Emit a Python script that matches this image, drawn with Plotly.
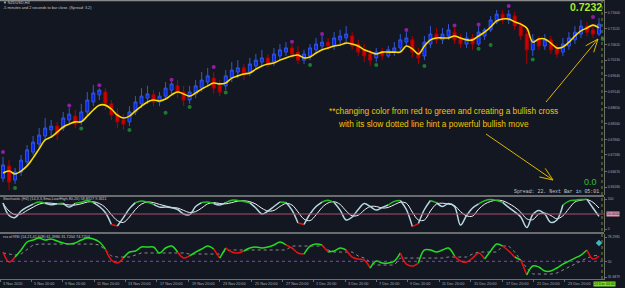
import plotly.graph_objects as go
import math

# ---------------- data ----------------
bar_idx = list(range(100))
opens = [0.6646,0.6684,0.6640,0.6665,0.6696,0.6727,0.6752,0.6777,0.6796,0.6808,
         0.6802,0.6827,0.6839,0.6821,0.6852,0.6883,0.6905,0.6914,0.6877,0.6845,
         0.6827,0.6821,0.6852,0.6877,0.6895,0.6905,0.6883,0.6901,0.6920,0.6933,
         0.6914,0.6889,0.6908,0.6926,0.6945,0.6957,0.6933,0.6933,0.6957,0.6976,
         0.6989,0.6976,0.6995,0.7007,0.7020,0.7007,0.7026,0.7038,0.7051,0.7038,
         0.7013,0.7026,0.7045,0.7057,0.7069,0.7057,0.7076,0.7082,0.7088,0.7063,
         0.7045,0.7032,0.7020,0.7038,0.7026,0.7038,0.7051,0.7069,0.7076,0.7038,
         0.7026,0.7063,0.7094,0.7076,0.7088,0.7100,0.7082,0.7063,0.7082,0.7063,
         0.7088,0.7107,0.7132,0.7156,0.7138,0.7150,0.7119,0.7094,0.7045,0.7076,
         0.7057,0.7076,0.7051,0.7038,0.7057,0.7076,0.7094,0.7119,0.7107,0.7094]
highs = [0.6712,0.6703,0.6678,0.6718,0.6749,0.6777,0.6802,0.6833,0.6827,0.6821,
         0.6852,0.6864,0.6858,0.6877,0.6914,0.6936,0.6925,0.6926,0.6889,0.6864,
         0.6845,0.6870,0.6901,0.6926,0.6933,0.6920,0.6914,0.6945,0.6945,0.6951,
         0.6933,0.6933,0.6951,0.6976,0.6989,0.6976,0.6951,0.6982,0.7007,0.7013,
         0.7001,0.7020,0.7032,0.7045,0.7032,0.7051,0.7063,0.7069,0.7063,0.7057,
         0.7045,0.7063,0.7082,0.7088,0.7082,0.7100,0.7107,0.7119,0.7100,0.7076,
         0.7063,0.7045,0.7051,0.7051,0.7057,0.7069,0.7094,0.7100,0.7088,0.7051,
         0.7088,0.7119,0.7113,0.7113,0.7125,0.7113,0.7094,0.7100,0.7094,0.7119,
         0.7113,0.7150,0.7169,0.7169,0.7169,0.7163,0.7132,0.7113,0.7094,0.7088,
         0.7094,0.7088,0.7063,0.7082,0.7100,0.7119,0.7138,0.7132,0.7125,0.7144]
lows = [0.6634,0.6609,0.6628,0.6653,0.6687,0.6718,0.6740,0.6765,0.6774,0.6765,
        0.6793,0.6814,0.6802,0.6811,0.6842,0.6870,0.6889,0.6858,0.6827,0.6802,
        0.6796,0.6808,0.6842,0.6864,0.6877,0.6870,0.6870,0.6889,0.6908,0.6895,
        0.6870,0.6877,0.6895,0.6914,0.6933,0.6908,0.6901,0.6920,0.6945,0.6957,
        0.6951,0.6964,0.6982,0.6995,0.6989,0.6995,0.7013,0.7026,0.7020,0.7001,
        0.7001,0.7013,0.7032,0.7045,0.7045,0.7045,0.7063,0.7069,0.7045,0.7026,
        0.7007,0.6995,0.7007,0.7013,0.7020,0.7026,0.7038,0.7057,0.7020,0.7001,
        0.7013,0.7051,0.7063,0.7063,0.7076,0.7063,0.7051,0.7051,0.7045,0.7057,
        0.7076,0.7100,0.7125,0.7125,0.7125,0.7107,0.7076,0.7001,0.7026,0.7045,
        0.7045,0.7032,0.7020,0.7026,0.7045,0.7063,0.7082,0.7088,0.7082,0.7088]
closes = [0.6687,0.6634,0.6665,0.6702,0.6734,0.6758,0.6780,0.6802,0.6808,0.6783,
          0.6833,0.6845,0.6814,0.6852,0.6889,0.6911,0.6920,0.6877,0.6842,0.6821,
          0.6814,0.6852,0.6883,0.6901,0.6908,0.6883,0.6901,0.6926,0.6939,0.6914,
          0.6889,0.6914,0.6933,0.6951,0.6964,0.6926,0.6914,0.6964,0.6982,0.6989,
          0.6970,0.7001,0.7013,0.7020,0.7001,0.7032,0.7045,0.7051,0.7032,0.7013,
          0.7032,0.7051,0.7063,0.7069,0.7057,0.7082,0.7088,0.7094,0.7057,0.7038,
          0.7026,0.7013,0.7038,0.7026,0.7045,0.7051,0.7076,0.7082,0.7038,0.7020,
          0.7069,0.7094,0.7076,0.7094,0.7107,0.7076,0.7063,0.7082,0.7063,0.7100,
          0.7107,0.7138,0.7156,0.7138,0.7156,0.7119,0.7088,0.7045,0.7076,0.7057,
          0.7076,0.7045,0.7032,0.7063,0.7082,0.7100,0.7119,0.7100,0.7094,0.7125]
ma_vals = [0.6662,0.6668,0.6659,0.6668,0.6684,0.6709,0.6737,0.6765,0.6774,0.6789,
           0.6805,0.6814,0.6821,0.6821,0.6839,0.6858,0.6873,0.6873,0.6861,0.6842,
           0.6833,0.6839,0.6855,0.6870,0.6883,0.6889,0.6886,0.6892,0.6905,0.6914,
           0.6908,0.6901,0.6911,0.6923,0.6933,0.6942,0.6939,0.6942,0.6957,0.6964,
           0.6970,0.6973,0.6985,0.6995,0.7001,0.7004,0.7013,0.7020,0.7026,0.7029,
           0.7020,0.7023,0.7035,0.7045,0.7051,0.7057,0.7060,0.7066,0.7063,0.7057,
           0.7045,0.7038,0.7032,0.7038,0.7038,0.7038,0.7038,0.7057,0.7048,0.7032,
           0.7057,0.7076,0.7082,0.7082,0.7082,0.7088,0.7082,0.7076,0.7076,0.7088,
           0.7100,0.7116,0.7135,0.7141,0.7141,0.7132,0.7125,0.7113,0.7069,0.7079,
           0.7079,0.7066,0.7051,0.7054,0.7069,0.7088,0.7104,0.7113,0.7122,0.7113]
up_frac_idx = [0, 11, 16, 28, 35, 48, 53, 67, 75, 79, 84, 98]
up_frac_val = [0.6727, 0.6872, 0.6935, 0.6952, 0.6992, 0.7070, 0.7094, 0.7107, 0.7121, 0.7124, 0.7181, 0.7147]
dn_frac_idx = [2, 13, 21, 27, 31, 37, 51, 62, 70, 79, 81, 88, 99.6]
dn_frac_val = [0.6615, 0.6800, 0.6796, 0.6849, 0.6867, 0.6912, 0.6998, 0.6998, 0.6995, 0.7048, 0.7060, 0.7015, 0.7079]

stoch_k = [87,45,38,60,73,83,90,86,81,84, 86,73,86,89,95,88,75,55,15,10,
           38,68,88,93,89,82,73,73,71,65, 50,48,75,88,90,85,80,88,96,95,
           92,87,70,50,60,75,90,88,63,20, 15,50,75,90,96,88,63,30,40,65,
           85,75,63,72,80,92,95,65,8,18, 65,95,88,75,85,75,13,45,70,84,
           94,98,95,89,72,57,40,5,48,62, 50,22,30,80,93,96,98,99,70,42]
stoch_d = [85,60,48,50,62,73,83,87,86,84, 83,80,80,84,90,91,85,72,48,28,
           22,40,65,83,90,88,82,77,72,70, 62,55,58,70,84,88,85,84,88,93,
           94,91,83,69,60,62,75,85,80,57, 33,28,47,72,87,91,82,60,44,46,
           63,75,75,70,72,81,89,86,56,30, 30,60,83,86,83,78,58,44,43,66,
           83,92,96,94,85,73,56,34,31,50, 53,45,34,44,68,90,96,98,89,70]
rsi_vals = [60.8,49.2,55.0,63.2,72.5,74.8,77.0,74.8,76.0,73.6,
            71.3,70.1,71.3,74.8,77.0,76.0,72.5,64.3,51.5,48.0,
            53.8,60.8,62.0,66.6,66.6,66.6,59.7,65.5,67.8,60.8,
            53.8,56.2,60.8,64.3,67.8,64.3,53.8,65.5,60.8,59.7,
            62.0,65.5,66.6,65.5,66.6,69.0,72.5,69.0,65.5,59.7,
            58.5,67.8,70.1,69.0,60.8,62.0,65.5,63.2,55.0,52.7,
            51.5,42.2,50.3,48.0,48.0,50.3,59.7,46.8,44.5,48.0,
            63.2,63.2,60.8,63.2,65.5,56.2,50.3,49.2,53.8,59.7,
            52.7,62.0,70.1,67.8,62.0,55.0,51.5,34.0,44.5,43.3,
            38.7,38.7,42.2,46.8,50.3,53.8,57.3,63.2,52.7,56.2]
rsi_sig = [59.7,58.5,57.3,58.5,64.3,69.0,70.1,70.1,70.1,70.1,
           70.1,70.1,70.1,70.1,70.1,70.1,69.0,63.2,56.2,55.0,
           55.0,55.0,57.3,59.7,59.7,59.7,59.7,59.7,59.7,59.7,
           59.7,58.5,58.5,58.5,58.5,58.5,58.5,62.0,63.2,63.2,
           63.2,63.2,63.2,63.2,63.2,63.2,63.2,63.2,67.8,67.8,
           67.8,67.8,67.8,67.8,63.2,60.8,60.8,60.8,60.8,56.2,
           53.8,49.2,45.7,45.7,45.7,45.7,53.8,53.8,53.8,53.8,
           53.8,53.8,53.8,53.8,55.0,55.0,55.0,55.0,58.5,60.8,
           60.8,60.8,60.8,67.8,67.8,60.8,51.5,42.2,35.2,35.2,
           35.2,35.2,36.3,39.9,43.3,46.8,50.3,53.8,56.2,57.3]
rsi_icon_idx = [99]
rsi_icon_val = [71.3]

price_ticks = [0.7160,0.7112,0.7062,0.7013,0.6964,0.6914,0.6865,0.6816,0.6766,0.6718,0.6667,0.6618]
price_tick_text = ["0.71600","0.71120","0.70620","0.70130","0.69640","0.69140","0.68650",
                   "0.68160","0.67660","0.67180","0.66670","0.66180"]
xtick_idx = [-0.5,4.67,9.83,15.17,20.33,25.5,30.83,36.0,41.33,46.5,51.5,56.83,62.0,67.17,72.5,77.67,83.0,88.17,93.33]
xtick_text = ["3 Nov 2020","5 Nov 20:00","9 Nov 20:00","11 Nov 20:00","13 Nov 20:00","17 Nov 20:00",
              "19 Nov 20:00","23 Nov 20:00","25 Nov 20:00","27 Nov 20:00","1 Dec 20:00","3 Dec 20:00",
              "7 Dec 20:00","9 Dec 20:00","11 Dec 20:00","15 Dec 20:00","17 Dec 20:00","21 Dec 20:00",
              "23 Dec 20:00"]

# ---------------- layout helpers ----------------
BG = "#131722"
PW, PH = 604, 279           # plot area in px (right margin 21, bottom margin 9)
def px(x): return x / PW
def py(y): return (PH - y) / PH

fig = go.Figure()

fig.add_trace(go.Candlestick(
    x=bar_idx, open=opens, high=highs, low=lows, close=closes,
    increasing=dict(line=dict(color="#3358d0", width=1), fillcolor="#0a22ff"),
    decreasing=dict(line=dict(color="#b00000", width=1), fillcolor="#d40000"),
    whiskerwidth=0, xaxis="x", yaxis="y", hoverinfo="skip"))
fig.add_trace(go.Scatter(x=bar_idx, y=ma_vals, mode="lines", line=dict(color="#FFDC00", width=1.6, shape="spline"),
                         xaxis="x", yaxis="y", hoverinfo="skip"))
fig.add_trace(go.Scatter(x=up_frac_idx, y=up_frac_val, mode="markers",
                         marker=dict(symbol="circle", size=4, color="#8e1f9f"), xaxis="x", yaxis="y"))
fig.add_trace(go.Scatter(x=dn_frac_idx, y=dn_frac_val, mode="markers",
                         marker=dict(symbol="circle", size=4, color="#1b7a30"), xaxis="x", yaxis="y"))

def add_runs(xs, ys, seg_colors, yaxis, width):
    start = 0
    n = len(seg_colors)
    for i in range(1, n + 1):
        if i == n or seg_colors[i] != seg_colors[start]:
            fig.add_trace(go.Scatter(x=xs[start:i + 1], y=ys[start:i + 1], mode="lines",
                                     line=dict(color=seg_colors[start], width=width, shape="spline"),
                                     xaxis="x", yaxis=yaxis, hoverinfo="skip"))
            start = i

# stochastic
fig.add_trace(go.Scatter(x=bar_idx, y=stoch_d, mode="lines", line=dict(color="#f2f2f2", width=1, shape="spline"),
                         xaxis="x", yaxis="y2", hoverinfo="skip"))
k_cols = []
for i in range(len(stoch_k) - 1):
    a = (stoch_k[i] + stoch_k[i + 1]) / 2
    k_cols.append("#22c322" if a >= 85 else ("#e81010" if a <= 22 else "#b4d8e2"))
add_runs(bar_idx, stoch_k, k_cols, "y2", 1.5)

# rsi
fig.add_trace(go.Scatter(x=bar_idx, y=rsi_sig, mode="lines", line=dict(color="#8c8c8c", width=1, dash="dot"),
                         xaxis="x", yaxis="y3", hoverinfo="skip"))
r_cols = ["#22dd22" if rsi_vals[i + 1] >= rsi_sig[i + 1] else "#ee1111" for i in range(len(rsi_vals) - 1)]
add_runs(bar_idx, rsi_vals, r_cols, "y3", 1.5)
fig.add_trace(go.Scatter(x=rsi_icon_idx, y=rsi_icon_val, mode="markers",
                         marker=dict(symbol="diamond", size=5, color="#3fb6c8"), xaxis="x", yaxis="y3"))

axis_font = dict(family="Liberation Sans", size=3.4, color="#a8a8a8")
ycommon = dict(side="right", anchor="x", showgrid=False, zeroline=False, showline=True,
               linecolor="#6e6e6e", linewidth=1, ticks="outside", ticklen=2, tickcolor="#6e6e6e",
               tickfont=axis_font, fixedrange=True)

fig.update_layout(
    width=625, height=288, margin=dict(l=0, r=21, t=0, b=9),
    paper_bgcolor=BG, plot_bgcolor=BG, showlegend=False, hovermode=False,
    xaxis=dict(domain=[0, 1], range=[-0.5, 99.83], anchor="y3", showgrid=False, zeroline=False,
               showticklabels=False, showline=True, linecolor="#6e6e6e", ticks="outside", ticklen=2,
               tickcolor="#6e6e6e", tickvals=xtick_idx, rangeslider=dict(visible=False)),
    yaxis=dict(domain=[py(195), 1], range=[0.659355, 0.7200], tickvals=price_ticks,
               ticktext=price_tick_text, **ycommon),
    yaxis2=dict(domain=[py(232), py(197)], range=[-10, 106.7], tickvals=[100, 0],
                ticktext=["100", "0"], **ycommon),
    yaxis3=dict(domain=[0, py(234)], range=[29.4, 81.8], tickvals=[78.2981, 50, 31.6879],
                ticktext=["78.2981", "50", "31.6879"], **ycommon),
)

shapes = []
# panel borders
for yy in [0.5, 196, 233]:
    shapes.append(dict(type="line", xref="paper", yref="paper", x0=0, x1=1, y0=py(yy), y1=py(yy),
                       line=dict(color="#8a8a8a", width=1.5)))
# level lines
shapes.append(dict(type="line", xref="paper", yref="y2", x0=0, x1=1, y0=50, y1=50,
                   line=dict(color="#a8506f", width=1)))
shapes.append(dict(type="line", xref="paper", yref="y3", x0=0, x1=1, y0=50, y1=50,
                   line=dict(color="#8e3fbf", width=1, dash="dot")))
# current-bar dotted separator
shapes.append(dict(type="line", xref="paper", yref="paper", x0=px(602), x1=px(602), y0=0, y1=1,
                   line=dict(color="#6f8f2a", width=1, dash="dot")))

# arrows (pixel geometry)
def arrow(x0, y0, x1, y1, color="#e0b400"):
    shapes.append(dict(type="line", xref="paper", yref="paper", x0=px(x0), y0=py(y0), x1=px(x1), y1=py(y1),
                       line=dict(color=color, width=1)))
    ang = math.atan2(y0 - y1, x0 - x1)
    for d in (-0.38, 0.38):
        hx = x1 + 14 * math.cos(ang + d)
        hy = y1 + 14 * math.sin(ang + d)
        shapes.append(dict(type="line", xref="paper", yref="paper", x0=px(x1), y0=py(y1), x1=px(hx), y1=py(hy),
                           line=dict(color=color, width=1)))
arrow(546, 102, 598, 39)
arrow(486, 134, 553, 180)
fig.update_layout(shapes=shapes)

ann = []
def text(x, y, s, size, color, anchor="left", family="Liberation Sans", bg=None, yanchor="middle"):
    d = dict(xref="paper", yref="paper", x=px(x), y=py(y), text=s, showarrow=False, xanchor=anchor,
             yanchor=yanchor, font=dict(family=family, size=size, color=color))
    if bg:
        d["bgcolor"] = bg
    d["borderpad"] = 0
    ann.append(d)

text(2, 3, "▼ NZDUSD,H4", 3.8, "#c8c8c8")
text(2, 8, "-5 minutes and 2 seconds to bar close. (Spread: 3.2)", 3.8, "#c8c8c8")
text(603, 7, "<b>0.7232</b>", 10.5, "#a6ec2c", anchor="right")
text(328, 111, "**changing color from red to green and creating a bullish cross", 8.3, "#f0c400")
text(337, 124, "with its slow dotted line hint a powerful bullish move", 8.3, "#f0c400")
text(598, 182, "0.0", 9, "#2fc02f", anchor="right")
text(600, 191, "Spread: 22. Next Bar in 05:01", 4.9, "#c8c8c8", anchor="right", family="Liberation Mono")
text(2, 199, "Stochastic (H4) (14,3,3,Sma,Low/High,80,20) 58.8327 9.3611", 3.8, "#c8c8c8")
text(2, 237, "rsx of RSI (14,21,41,608) 61.3980 31.7204 74.7204", 3.8, "#c8c8c8")
text(606, 214, "50.0000", 3.4, "#202020", bg="#e69ab4")
for xi, s in zip(xtick_idx, xtick_text):
    ann.append(dict(xref="x", yref="paper", x=xi, y=py(284), text=s, showarrow=False, xanchor="left",
                    yanchor="middle", xshift=1, font=dict(family="Liberation Sans", size=3.8, color="#a8a8a8")))
text(593, 284, "24 Dec 04:00", 3.5, "#1a1a1a", bg="#7be01e")
fig.update_layout(annotations=ann)

fig.write_html("out.html")
